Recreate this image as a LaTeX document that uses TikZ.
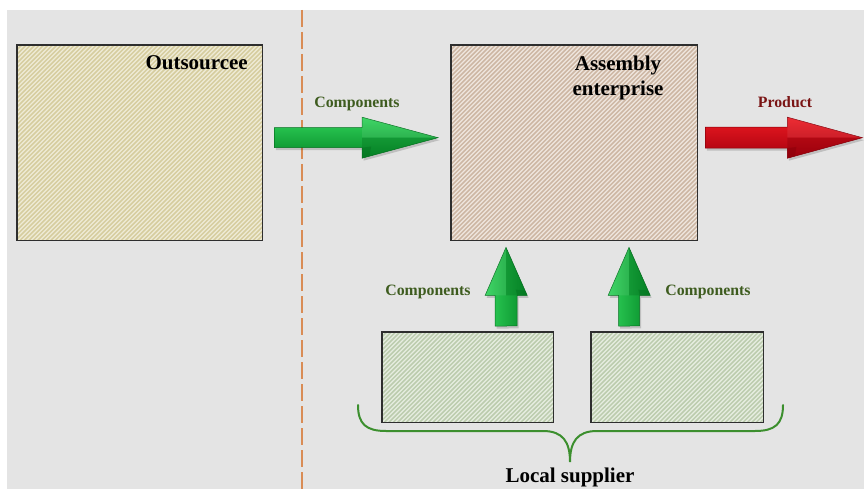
\documentclass[tikz,border=0pt]{standalone}
\usepackage{fontspec}
\setmainfont{Liberation Serif}
\usetikzlibrary{calc}

\definecolor{bg}{HTML}{E4E4E4}
\definecolor{boxline}{HTML}{2E2E2E}
\definecolor{outBase}{HTML}{EFEBD6}
\definecolor{outLine}{HTML}{D6CD9F}
\definecolor{asmBase}{HTML}{EFE6DE}
\definecolor{asmLine}{HTML}{CDB7A4}
\definecolor{supBase}{HTML}{E6EDE0}
\definecolor{supLine}{HTML}{BCCCAE}
\definecolor{grLight}{HTML}{30D25A}
\definecolor{grDark}{HTML}{068A28}
\definecolor{grEdge}{HTML}{04701F}
\definecolor{rdLight}{HTML}{EC1A22}
\definecolor{rdDark}{HTML}{A6000E}
\definecolor{rdEdge}{HTML}{86000A}
\definecolor{compText}{HTML}{3E5C1F}
\definecolor{prodText}{HTML}{7A1414}
\definecolor{divider}{HTML}{D98C55}
\definecolor{braceGreen}{HTML}{3C8F2E}

% fat block arrow from tail #1 to tip #2
% #3 shaft half width, #4 head half width, #5 head length,
% #6 shading style of the body, #7 colour of the dark facets
\newcommand{\fatarrow}[7]{%
  \coordinate (fah) at ($(#2)!#5!(#1)$);
  \coordinate (faTL) at ($(#1)!#3!90:(#2)$);
  \coordinate (faTR) at ($(#1)!#3!-90:(#2)$);
  \coordinate (faIL) at ($(fah)!#3!90:(#2)$);
  \coordinate (faIR) at ($(fah)!#3!-90:(#2)$);
  \coordinate (faOL) at ($(fah)!#4!90:(#2)$);
  \coordinate (faOR) at ($(fah)!#4!-90:(#2)$);
  \fill[black, opacity=0.16, transform canvas={shift={(1.5pt,-2.5pt)}}]
    (faTL) -- (faIL) -- (faOL) -- (#2) -- (faOR) -- (faIR) -- (faTR) -- cycle;
  \path[#6, draw=#7, line width=0.5pt]
    (faTL) -- (faIL) -- (faOL) -- (#2) -- (faOR) -- (faIR) -- (faTR) -- cycle;
  \fill[white, opacity=0.08] (fah) -- (faOL) -- (#2) -- cycle;
  \fill[#7, opacity=0.35] (fah) -- (faOR) -- (#2) -- cycle;
  \fill[#7, opacity=0.45] (faIR) -- (faOR) -- ($(faOR)!0.1!(#2)$) -- ($(faIR)!0.12!(#2)$) -- cycle;
}

% diagonal "/" hatching inside box node #1, in colour #2; #3 is the box height
\newcommand{\hatchbox}[3]{%
  \begin{scope}
    \clip (#1.north west) rectangle (#1.south east);
    \foreach \t in {0,4.4,...,460}
      \draw[#2, line width=1.5pt] ($(#1.south west)+(\t-#3,0)$) -- ++(#3,-#3);
  \end{scope}
  \draw[frame] (#1.north west) rectangle (#1.south east);
}

\tikzset{
  box/.style={inner sep=0pt, anchor=north west},
  frame/.style={draw=boxline, line width=1.4pt},
  title/.style={font=\fontsize{21}{25}\selectfont\bfseries, text=black, inner sep=0pt},
  flowlabel/.style={font=\fontsize{15.8}{18}\selectfont\bfseries, inner sep=0pt, anchor=base},
  greenH/.style={top color=grLight, bottom color=grDark},
  greenV/.style={left color=grLight, right color=grDark},
  redH/.style={top color=rdLight, bottom color=rdDark},
  divline/.style={draw=divider, line width=2pt, dash pattern=on 17pt off 5pt},
  brace/.style={draw=braceGreen, line width=2pt, line cap=round},
}

\begin{document}
\begin{tikzpicture}[x=1pt, y=-1pt]
  % page and slide background
  \fill[white] (0,0) rectangle (864,489);
  \fill[bg] (7,10) rectangle (864,489);
  \useasboundingbox (0,0) rectangle (864,489);

  % divider between abroad and local side
  \coordinate (divTop) at (302,10);
  \coordinate (divBot) at (302,489);
  \draw[divline] (divTop) -- (divBot);

  % companies
  \node[box, fill=outBase, minimum width=245pt, minimum height=195pt] (out) at (17,45) {};
  \node[box, fill=asmBase, minimum width=246pt, minimum height=195pt] (asm) at (451,45) {};
  \node[box, fill=supBase, minimum width=171pt, minimum height=90pt] (supL) at (382,332) {};
  \node[box, fill=supBase, minimum width=172pt, minimum height=90pt] (supR) at (591,332) {};
  \hatchbox{out}{outLine}{195}
  \hatchbox{asm}{asmLine}{195}
  \hatchbox{supL}{supLine}{90}
  \hatchbox{supR}{supLine}{90}

  \node[title, anchor=base east] (outT) at (248,70) {Outsourcee};
  \node[title, anchor=north, align=center] (asmT) at (618,55.5) {Assembly\\enterprise};

  % flows
  \coordinate (c1a) at ($(out.east)+(12,-5)$);
  \coordinate (c1b) at ($(asm.west)+(-13,-5)$);
  \fatarrow{c1a}{c1b}{10pt}{20.5pt}{76pt}{greenH}{grEdge}

  \coordinate (pa) at ($(asm.east)+(8,-5)$);
  \coordinate (pb) at ($(asm.east)+(165,-5)$);
  \fatarrow{pa}{pb}{10.5pt}{20.5pt}{75pt}{redH}{rdEdge}

  \coordinate (c2a) at ($(supL.north)+(38.5,-6)$);
  \coordinate (c2b) at ($(asm.south west)+(55,7)$);
  \fatarrow{c2a}{c2b}{11pt}{21pt}{48pt}{greenV}{grEdge}

  \coordinate (c3a) at ($(supR.north)+(-48,-6)$);
  \coordinate (c3b) at ($(asm.south west)+(178,7)$);
  \fatarrow{c3a}{c3b}{10.5pt}{21pt}{48pt}{greenV}{grEdge}

  \node[flowlabel, text=compText] (l1) at (357,108) {Components};
  \node[flowlabel, text=prodText] (l2) at (785,108) {Product};
  \node[flowlabel, text=compText] (l3) at (428,295) {Components};
  \node[flowlabel, text=compText] (l4) at (708,295) {Components};

  % brace grouping the local suppliers
  \node[title, anchor=base] (loc) at (570,482) {Local supplier};
  \coordinate (brL) at (358,405);
  \coordinate (brR) at (783,405);
  \coordinate (brTip) at (570,462);
  \draw[brace] (brL) .. controls (358,424) and (366,431) .. (386,431)
    -- (543,431) .. controls (563,431) and (570,442) .. (brTip)
    .. controls (570,442) and (577,431) .. (597,431)
    -- (755,431) .. controls (775,431) and (783,424) .. (brR);
\end{tikzpicture}
\end{document}
